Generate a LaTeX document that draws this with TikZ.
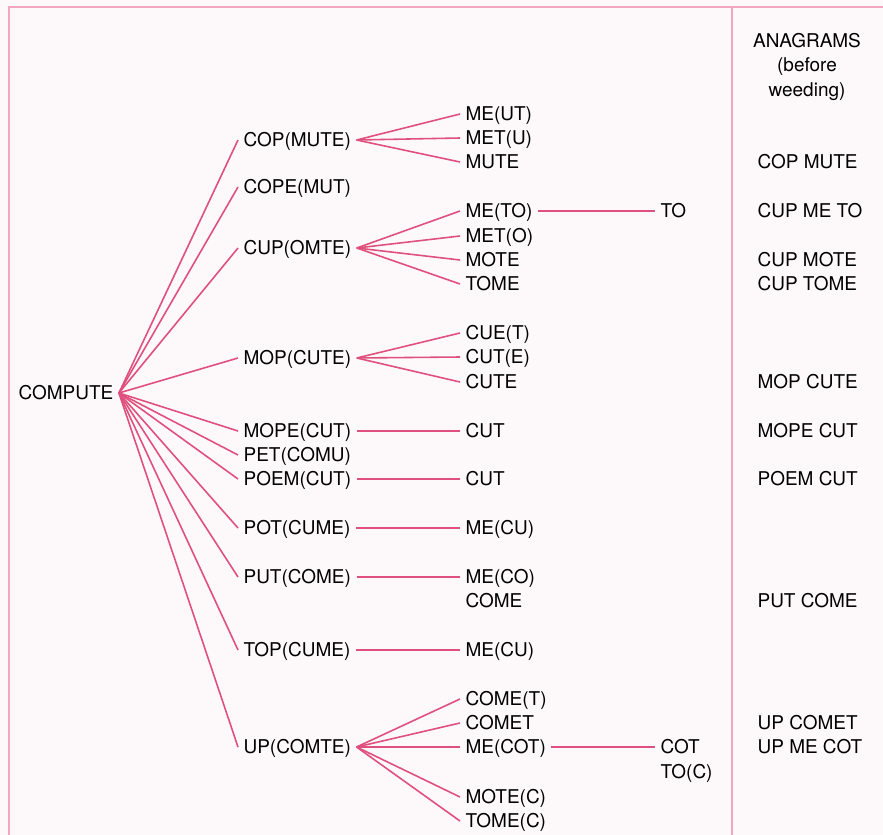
\documentclass[tikz,border=0pt]{standalone}
\usepackage{fontspec}
\setmainfont{TeX Gyre Heros}
\definecolor{treepink}{HTML}{E0507E}
\definecolor{framepink}{HTML}{F2A9C0}
\definecolor{paper}{HTML}{FDF8FA}
\tikzset{
  word/.style={anchor=west,inner xsep=3pt,inner ysep=0pt,text height=7.75pt,text depth=0pt,
    font=\fontsize{10.8}{13.9}\selectfont},
  branch/.style={draw=treepink,line width=0.9pt},
}
\begin{document}
\begin{tikzpicture}[x=0.02cm,y=-0.02cm]
\useasboundingbox (0,0) rectangle (883,835);
\fill[paper] (0,0) rectangle (883,835);
\draw[framepink,line width=1.2pt] (9,835) -- (9,7) -- (883,7);
\draw[framepink,line width=0.9pt] (732,7) -- (732,835);
\node[font=\fontsize{10.8}{13.9}\selectfont,align=center,inner sep=0pt,anchor=north] (head) at (807,33)
  {ANAGRAMS\\(before\\weeding)};
\node[word] (compute) at (13,393) {COMPUTE};
\foreach \n/\y/\t in {cop/140/COP(MUTE),cope/187/COPE(MUT),cup/248/CUP(OMTE),
  mop/358/MOP(CUTE),mope/431/MOPE(CUT),pet/455/PET(COMU),poem/479/POEM(CUT),
  pot/528/POT(CUME),put/577/PUT(COME),top/650/TOP(CUME),up/747/UP(COMTE)}
  \node[word] (\n) at (238,\y) {\t};
\foreach \n/\y/\t in {me-ut/114/ME(UT),met-u/138/MET(U),mute/162/MUTE,
  me-to/211/ME(TO),met-o/236/MET(O),mote/260/MOTE,tome/284/TOME,
  cue-t/333/CUE(T),cut-e/357/CUT(E),cute/382/CUTE,cut-a/431/CUT,cut-b/479/CUT,
  me-cu-a/528/ME(CU),me-co/577/ME(CO),come/601/COME,me-cu-b/650/ME(CU),
  come-t/699/COME(T),comet/723/COMET,me-cot/747/ME(COT),mote-c/797/MOTE(C),tome-c/821/TOME(C)}
  \node[word] (\n) at (460,\y) {\t};
\foreach \n/\y/\t in {to/211/TO,cot/747/COT,to-c/772/TO(C)}
  \node[word] (\n) at (655,\y) {\t};
\foreach \n/\y/\t in {a1/162/COP MUTE,a2/211/CUP ME TO,a3/260/CUP MOTE,a4/284/CUP TOME,
  a5/382/MOP CUTE,a6/431/MOPE CUT,a7/479/POEM CUT,a8/601/PUT COME,a9/723/UP COMET,a10/747/UP ME COT}
  \node[word] (\n) at (752,\y) {\t};
\foreach \b in {cop,cope,cup,mop,mope,pet,poem,pot,put,top,up}
  \draw[branch] (compute.east) -- (\b.west);
\foreach \a/\b in {cop/me-ut,cop/met-u,cop/mute,cup/me-to,cup/met-o,cup/mote,cup/tome,
  me-to/to,mop/cue-t,mop/cut-e,mop/cute,mope/cut-a,poem/cut-b,pot/me-cu-a,put/me-co,
  top/me-cu-b,up/come-t,up/comet,up/me-cot,up/mote-c,up/tome-c,me-cot/cot}
  \draw[branch] (\a.east) -- (\b.west);
\end{tikzpicture}
\end{document}
